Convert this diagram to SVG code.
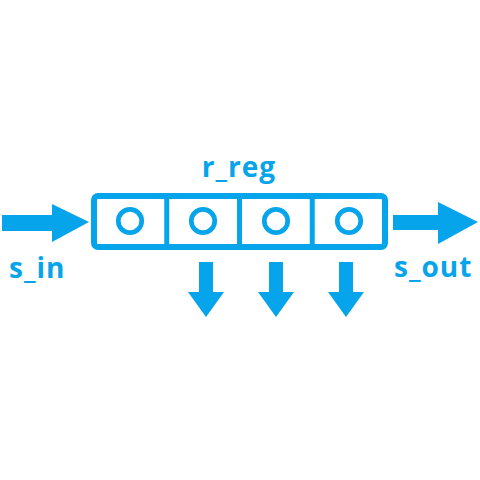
<svg xmlns="http://www.w3.org/2000/svg" width="480" height="480" viewBox="0 0 480 480">
<style>
.c{fill:#06a4ea}
.s{fill:none;stroke:#06a4ea}
.t{font-family:"Open Sans","Liberation Sans",sans-serif;font-weight:700;font-size:28px;letter-spacing:1px;fill:#06a4ea}
</style>
<rect width="480" height="480" fill="#ffffff"/>
<g id="r_reg">
<rect class="s" x="94" y="196" width="291" height="51" rx="4" stroke-width="6"/>
<line class="s" x1="166.75" y1="196" x2="166.75" y2="247" stroke-width="5"/>
<line class="s" x1="239.5" y1="196" x2="239.5" y2="247" stroke-width="5"/>
<line class="s" x1="312.25" y1="196" x2="312.25" y2="247" stroke-width="5"/>
<circle class="s" cx="130" cy="221" r="11.7" stroke-width="4.7"/>
<circle class="s" cx="203" cy="221" r="11.7" stroke-width="4.7"/>
<circle class="s" cx="276" cy="221" r="11.7" stroke-width="4.7"/>
<circle class="s" cx="349" cy="221" r="11.7" stroke-width="4.7"/>
<text class="t" x="239" y="177" text-anchor="middle">r_reg</text>
</g>
<g id="connectors">
<polygon class="c" points="2,215 52,215 52,204 89,222 52,242 52,231 2,231"/>
<polygon class="c" points="393,215 438,215 438,202 478,222 438,244 438,230 393,230"/>
<polygon class="c" points="199,262 213,262 213,292 224,292 206,317 188,292 199,292"/>
<polygon class="c" points="269,262 283,262 283,292 294,292 276,317 258,292 269,292"/>
<polygon class="c" points="339,262 353,262 353,292 364,292 346,317 328,292 339,292"/>
</g>
<g id="s_in"><text class="t" x="9" y="278">s_in</text></g>
<g id="s_out"><text class="t" x="394" y="277">s_out</text></g>
</svg>
